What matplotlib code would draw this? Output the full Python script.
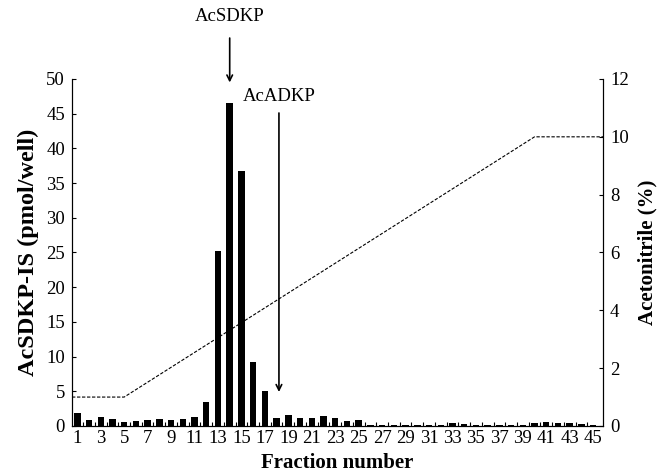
import matplotlib
matplotlib.use("Agg")
import matplotlib.pyplot as plt
import numpy as np

# fractions and measured AcSDKP-IS (pmol/well)
fractions = list(range(1, 46))
acsdkp = [1.8, 0.8, 1.3, 1.0, 0.6, 0.7, 0.8, 1.0, 0.9, 1.0,
          1.3, 3.5, 25.2, 46.5, 36.8, 9.2, 5.1, 1.2, 1.6, 1.1,
          1.1, 1.5, 1.1, 0.7, 0.9, 0.2, 0.2, 0.1, 0.2, 0.2,
          0.2, 0.2, 0.4, 0.3, 0.2, 0.1, 0.2, 0.2, 0.2, 0.4,
          0.6, 0.5, 0.4, 0.3, 0.2]

# acetonitrile gradient (%)
grad_x = [0.55, 5, 40, 45.85]
grad_y = [1, 1, 10, 10]

plt.rcParams['font.family'] = ['Liberation Serif', 'DejaVu Serif']

fig = plt.figure(figsize=(6.57, 4.73), dpi=100)
ax = fig.add_axes([0.1096, 0.0994, 0.8084, 0.7336])

ax.bar(fractions, acsdkp, width=0.55, color='black')
ax.set_xlim(0.55, 45.85)
ax.set_ylim(0, 50)
ax.set_yticks(range(0, 51, 5))
ax.set_xticks(range(1, 46, 2))
ax.set_xticks(np.arange(1.5, 45.5, 1), minor=True)
ax.tick_params(axis='x', which='major', length=0, labelsize=13.5, pad=3)
ax.tick_params(axis='x', which='minor', direction='in', length=3, width=0.8)
ax.tick_params(axis='y', direction='in', length=3, labelsize=13.5, pad=5)
ax.spines['top'].set_visible(False)
ax.set_xlabel("Fraction number", fontsize=15, fontweight='bold', labelpad=4)
ax.set_ylabel("AcSDKP-IS (pmol/well)", fontsize=17.5, fontweight='bold', labelpad=5)

ax2 = ax.twinx()
ax2.plot(grad_x, grad_y, color='black', linestyle=(0, (3, 1.5)), linewidth=0.8)
ax2.set_ylim(0, 12)
ax2.set_yticks(range(0, 13, 2))
ax2.tick_params(axis='y', direction='in', length=3, labelsize=13.5, pad=5)
ax2.spines['top'].set_visible(False)
ax2.set_ylabel("Acetonitrile (%)", fontsize=15, fontweight='bold', labelpad=6)

# peak annotations
ax.annotate("", xy=(14, 49.1), xytext=(14, 56.3),
            arrowprops=dict(arrowstyle='->', color='black', lw=1.2), annotation_clip=False)
ax.text(14, 59.0, "AcSDKP", ha='center', va='center', fontsize=13.5, clip_on=False)
ax.annotate("", xy=(18.2, 4.5), xytext=(18.2, 45.5),
            arrowprops=dict(arrowstyle='->', color='black', lw=1.2), annotation_clip=False)
ax.text(18.2, 47.5, "AcADKP", ha='center', va='center', fontsize=13.5)

fig.savefig("out.png", dpi=100)
